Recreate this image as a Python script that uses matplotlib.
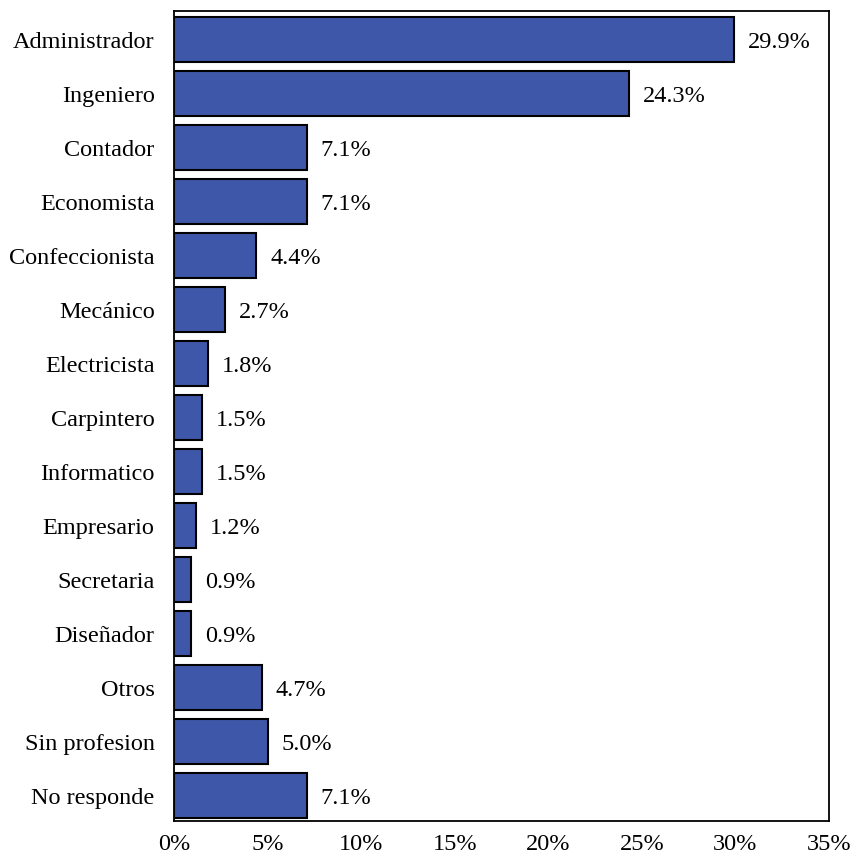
import matplotlib.pyplot as plt
from matplotlib.ticker import PercentFormatter

plt.rcParams['font.family'] = ['Liberation Serif', 'DejaVu Serif']

profesiones = ['Administrador', 'Ingeniero', 'Contador', 'Economista', 'Confeccionista',
               'Mecánico', 'Electricista', 'Carpintero', 'Informatico', 'Empresario',
               'Secretaria', 'Diseñador', 'Otros', 'Sin profesion', 'No responde']
porcentajes = [29.9, 24.3, 7.1, 7.1, 4.4, 2.7, 1.8, 1.5, 1.5, 1.2, 0.9, 0.9, 4.7, 5.0, 7.1]

fs = 17.5
fig = plt.figure(figsize=(8.5, 8.56), dpi=100)
ax = fig.add_axes([0.2047, 0.041, 0.7706, 0.946])

pos = list(range(len(profesiones)))
ax.barh(pos, porcentajes, height=0.83, color='#3F57A8', edgecolor='black', linewidth=1.5)
for y, v in zip(pos, porcentajes):
    ax.annotate(f'{v:.1f}%', (v, y), xytext=(10, -2), textcoords='offset points',
                va='center', ha='left', fontsize=fs)

ax.set_yticks(pos)
ax.set_yticklabels(profesiones, fontsize=fs)
ax.set_ylim(14.47, -0.53)
ax.set_xlim(0, 35)
ax.set_xticks(range(0, 36, 5))
ax.xaxis.set_major_formatter(PercentFormatter(decimals=0))
ax.tick_params(axis='both', length=0, labelsize=fs)
ax.tick_params(axis='x', pad=9.5)
ax.tick_params(axis='y', pad=14)
for s in ax.spines.values():
    s.set_linewidth(1.3)

fig.savefig('out.png', dpi=100)
